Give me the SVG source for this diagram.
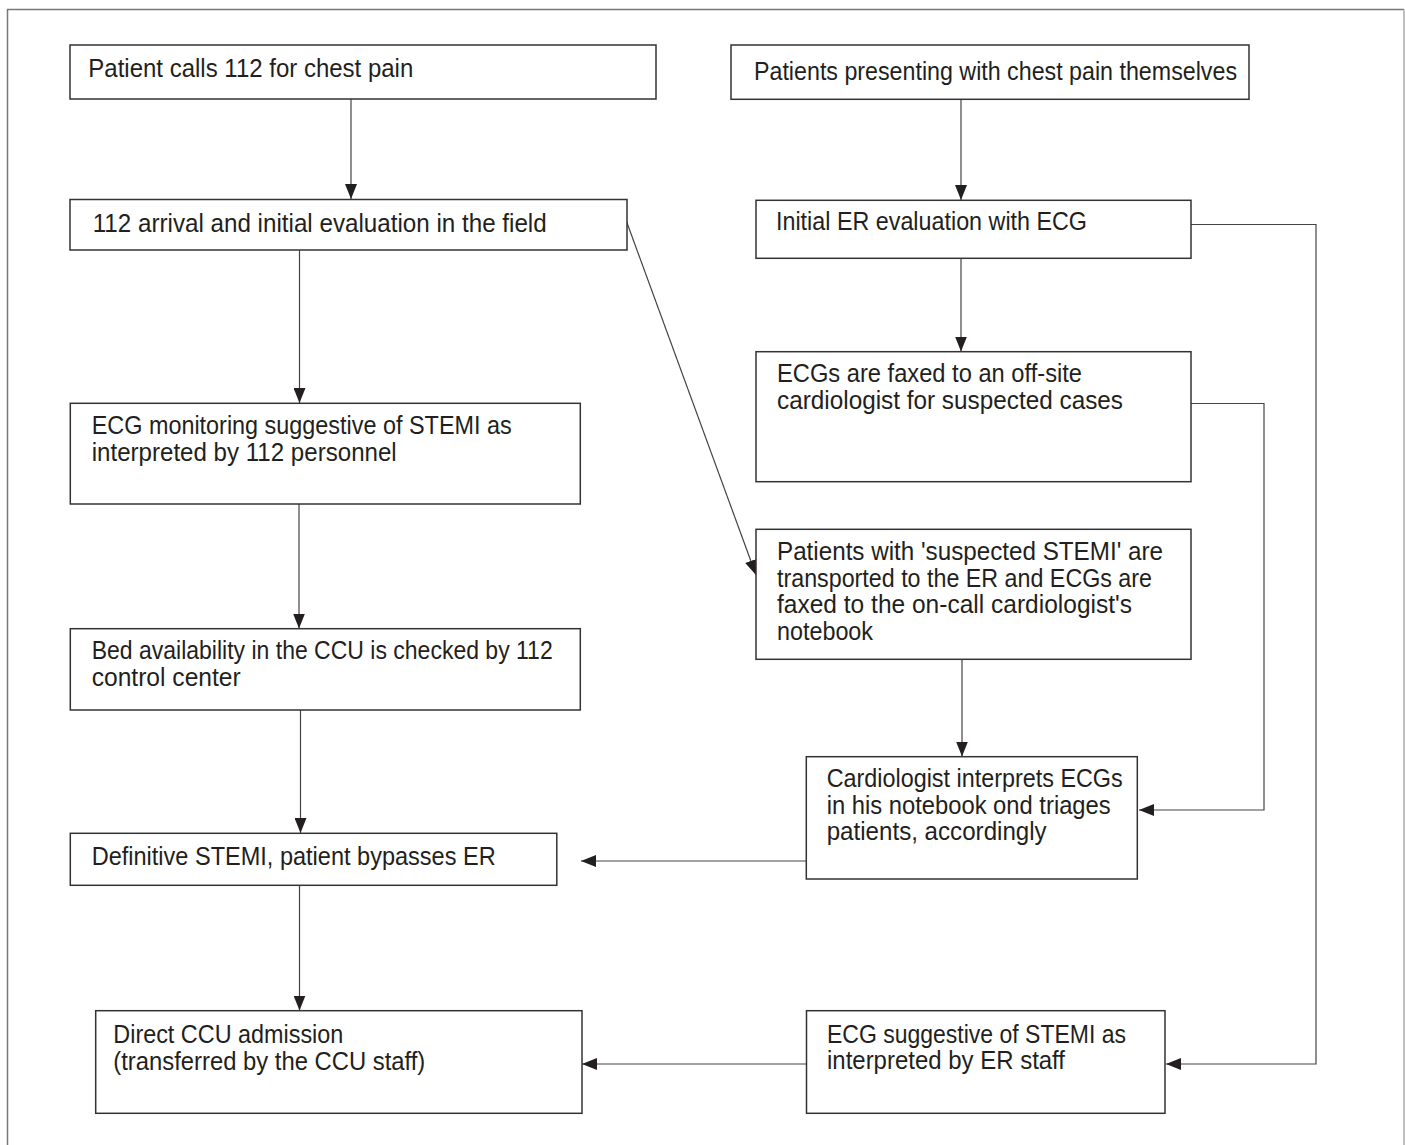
<svg xmlns="http://www.w3.org/2000/svg" width="1405" height="1145" viewBox="0 0 1405 1145">
<style>
  .box { fill: #ffffff; stroke: #333333; stroke-width: 1.5; }
  .t { font-family: "Liberation Sans", Arial, sans-serif; font-size: 25px; fill: #231f20; }
  .c { fill: none; stroke: #444444; stroke-width: 1.2; }
  .frame { fill: none; stroke: #777777; stroke-width: 1.5; }
</style>
<defs>
  <marker id="ah" markerUnits="userSpaceOnUse" markerWidth="15" markerHeight="12" refX="15" refY="6" orient="auto">
    <path d="M0,0 L15,6 L0,12 Z" fill="#231f20"/>
  </marker>
</defs>
<rect width="1405" height="1145" fill="#ffffff"/>
<g id="frame">
  <path class="frame" d="M7.5,1145 L7.5,9.5 L1404,9.5"/>
  <path d="M1404,9.5 L1404,1145" stroke="#aaaaaa" stroke-width="1.5" fill="none"/>
</g>
<g id="connectors">
  <path class="c" d="M351,99 L351,199" marker-end="url(#ah)"/>
  <path class="c" d="M299.5,250 L299.5,403" marker-end="url(#ah)"/>
  <path class="c" d="M626.7,222 L756,575" marker-end="url(#ah)"/>
  <path class="c" d="M299,504 L299,628.5" marker-end="url(#ah)"/>
  <path class="c" d="M300.5,710 L300.5,833" marker-end="url(#ah)"/>
  <path class="c" d="M299.5,885 L299.5,1010.5" marker-end="url(#ah)"/>
  <path class="c" d="M961,99 L961,200" marker-end="url(#ah)"/>
  <path class="c" d="M961,258 L961,351.5" marker-end="url(#ah)"/>
  <path class="c" d="M1191,224.5 L1316,224.5 L1316,1064 L1166,1064" marker-end="url(#ah)"/>
  <path class="c" d="M1191,403.5 L1264,403.5 L1264,810 L1139,810" marker-end="url(#ah)"/>
  <path class="c" d="M962,659 L962,756.5" marker-end="url(#ah)"/>
  <path class="c" d="M806,861 L581,861" marker-end="url(#ah)"/>
  <path class="c" d="M806.5,1064 L582,1064" marker-end="url(#ah)"/>
</g>
<g id="n1">
  <rect class="box" x="70" y="45" width="586" height="54"/>
  <text class="t" x="88.3" y="77.3" textLength="325" lengthAdjust="spacingAndGlyphs">Patient calls 112 for chest pain</text>
</g>
<g id="n2">
  <rect class="box" x="70" y="199.5" width="557" height="50.5"/>
  <text class="t" x="92.7" y="232.3" textLength="454" lengthAdjust="spacingAndGlyphs">112 arrival and initial evaluation in the field</text>
</g>
<g id="n3">
  <rect class="box" x="70.3" y="403.3" width="510" height="100.7"/>
  <text class="t" x="91.7" y="434" textLength="420" lengthAdjust="spacingAndGlyphs">ECG monitoring suggestive of STEMI as</text>
  <text class="t" x="91.7" y="460.7" textLength="305" lengthAdjust="spacingAndGlyphs">interpreted by 112 personnel</text>
</g>
<g id="n4">
  <rect class="box" x="70.3" y="628.7" width="510" height="81.3"/>
  <text class="t" x="91.7" y="659.3" textLength="461" lengthAdjust="spacingAndGlyphs">Bed availability in the CCU is checked by 112</text>
  <text class="t" x="91.7" y="686" textLength="149" lengthAdjust="spacingAndGlyphs">control center</text>
</g>
<g id="n5">
  <rect class="box" x="70.3" y="833.3" width="486.5" height="52"/>
  <text class="t" x="91.7" y="865" textLength="404" lengthAdjust="spacingAndGlyphs">Definitive STEMI, patient bypasses ER</text>
</g>
<g id="n6">
  <rect class="box" x="95.7" y="1010.7" width="486.3" height="102.6"/>
  <text class="t" x="113.3" y="1043.3" textLength="230" lengthAdjust="spacingAndGlyphs">Direct CCU admission</text>
  <text class="t" x="113.3" y="1069.5" textLength="312" lengthAdjust="spacingAndGlyphs">(transferred by the CCU staff)</text>
</g>
<g id="n7">
  <rect class="box" x="731" y="45" width="518" height="54.3"/>
  <text class="t" x="754" y="80" textLength="483" lengthAdjust="spacingAndGlyphs">Patients presenting with chest pain themselves</text>
</g>
<g id="n8">
  <rect class="box" x="756" y="200.3" width="435" height="58"/>
  <text class="t" x="776" y="230" textLength="311" lengthAdjust="spacingAndGlyphs">Initial ER evaluation with ECG</text>
</g>
<g id="n9">
  <rect class="box" x="756" y="351.7" width="435" height="130"/>
  <text class="t" x="777" y="382.3" textLength="305" lengthAdjust="spacingAndGlyphs">ECGs are faxed to an off-site</text>
  <text class="t" x="777" y="408.8" textLength="346" lengthAdjust="spacingAndGlyphs">cardiologist for suspected cases</text>
</g>
<g id="n10">
  <rect class="box" x="756" y="529.3" width="435" height="130"/>
  <text class="t" x="777" y="560" textLength="386" lengthAdjust="spacingAndGlyphs">Patients with 'suspected STEMI' are</text>
  <text class="t" x="777" y="586.6" textLength="375" lengthAdjust="spacingAndGlyphs">transported to the ER and ECGs are</text>
  <text class="t" x="777" y="613" textLength="355" lengthAdjust="spacingAndGlyphs">faxed to the on-call cardiologist's</text>
  <text class="t" x="777" y="639.6" textLength="96" lengthAdjust="spacingAndGlyphs">notebook</text>
</g>
<g id="n11">
  <rect class="box" x="806.3" y="756.7" width="331" height="122.3"/>
  <text class="t" x="826.7" y="787.3" textLength="296" lengthAdjust="spacingAndGlyphs">Cardiologist interprets ECGs</text>
  <text class="t" x="826.7" y="814" textLength="284" lengthAdjust="spacingAndGlyphs">in his notebook ond triages</text>
  <text class="t" x="826.7" y="840.3" textLength="220" lengthAdjust="spacingAndGlyphs">patients, accordingly</text>
</g>
<g id="n12">
  <rect class="box" x="806.5" y="1010.7" width="358.5" height="102.6"/>
  <text class="t" x="827" y="1043.3" textLength="299" lengthAdjust="spacingAndGlyphs">ECG suggestive of STEMI as</text>
  <text class="t" x="827" y="1069.3" textLength="238" lengthAdjust="spacingAndGlyphs">interpreted by ER staff</text>
</g>
</svg>
